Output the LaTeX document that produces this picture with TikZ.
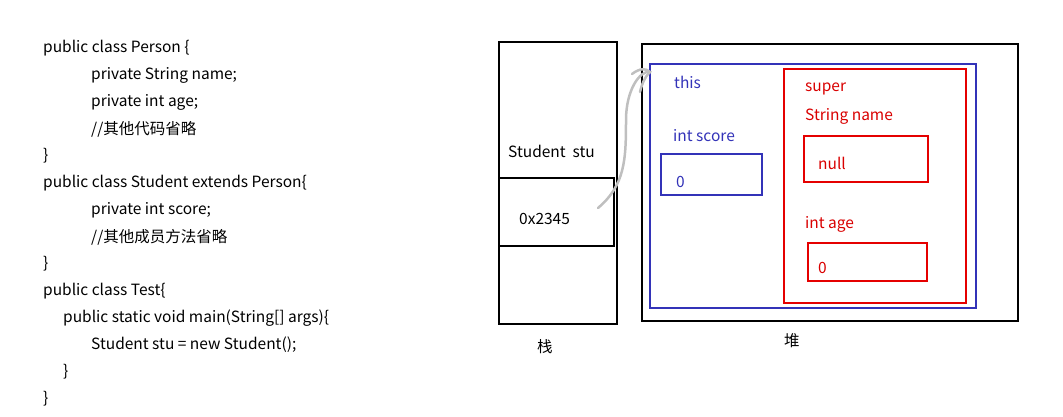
\documentclass[tikz,border=0pt]{standalone}
\usepackage{fontspec}
\setmainfont{Noto Sans CJK SC}
\begin{document}
\begin{tikzpicture}[x=1pt,y=-1pt,
  t/.style={anchor=west,inner sep=0,font=\fontsize{15.5}{17}\selectfont},
  bx/.style={inner sep=0,outer sep=0,anchor=north west},
  blk/.style={draw=black,line width=2.5pt},
  blu/.style={draw=blue!65!black!80,line width=2.5pt},
  rd/.style={draw=red!90!black,line width=2.5pt}]
\useasboundingbox (0,0) rectangle (1063,417);
\foreach \x/\y/\s [count=\i] in {43/48/{public class Person \{},91/75/{private String name;},91/102/{private int age;},91/129/{//其他代码省略},43/156/{\}},43/183/{public class Student extends Person\{},91/210/{private int score;},91/237/{//其他成员方法省略},43/264/{\}},43/291/{public class Test\{},63/318/{public static void main(String[] args)\{},91/345/{Student stu = new Student();},63/372/{\}},43/399/{\}}}
  \node[t] (c\i) at (\x,\y) {\s};
\draw[blk] (499,42) rectangle (617,324);
\node[blk,bx,minimum width=115pt,minimum height=68pt] (ptr) at (499,178) {};
\node[t] (stu) at (508,151) {Student\ \ stu};
\node[t] (addr) at (519,219) {0x2345};
\node[t] (zhan) at (537,347) {栈};
\node[blk,bx,minimum width=376pt,minimum height=277pt] (heap) at (642,44) {};
\node[t] (dui) at (784,341) {堆};
\node[blu,bx,minimum width=326pt,minimum height=244pt] (obj) at (650,64) {};
\node[blu,bx,minimum width=101pt,minimum height=41pt] (sc) at (661,154) {};
\node[rd,bx,minimum width=182pt,minimum height=234pt] (sup) at (784,69) {};
\node[rd,bx,minimum width=124pt,minimum height=46pt] (nm) at (804,136) {};
\node[rd,bx,minimum width=119pt,minimum height=38pt] (ag) at (808,243) {};
\begin{scope}[every node/.style={t,text=blue!65!black!80}]
\node (this) at (674,82) {this};
\node (isc) at (673,136) {int score};
\node (z1) at (676,182) {0};
\end{scope}
\begin{scope}[every node/.style={t,text=red!85!black}]
\node (su) at (805,89) {super};
\node (sn) at (805,116) {String name};
\node (nl) at (818,163) {null};
\node (ia) at (805,224) {int age};
\node (z2) at (818,268) {0};
\end{scope}
\coordinate (s) at (598,208);
\coordinate (e) at (650,72);
\draw[gray!50,line width=2.5pt,line cap=round] (s) .. controls (625,185) and (626,160) .. (626,120)
  .. controls (626,90) and (640,70) .. (e);
\draw[gray!50,line width=2.5pt,line cap=round] (632,74) .. controls (640,68) and (646,68) .. (e) .. controls (644,78) and (642,84) .. (640,92);
\end{tikzpicture}
\end{document}
